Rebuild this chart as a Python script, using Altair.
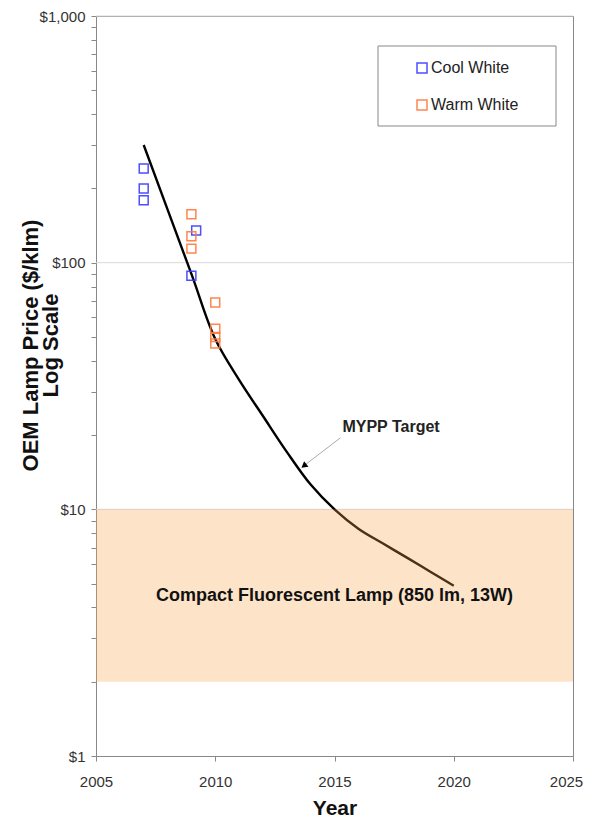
import altair as alt
import pandas as pd

# ---- data ----
target_years = [2007, 2009, 2010, 2011, 2012, 2013, 2014, 2015, 2016, 2017, 2018, 2019, 2020]
target_price = [300, 90, 49, 33.5, 23.9, 17.1, 12.6, 10, 8.35, 7.3, 6.4, 5.6, 4.9]

cool_years = [2007, 2007, 2007, 2009.2, 2009]
cool_price = [241, 200, 179, 135, 88.5]

warm_years = [2009, 2009, 2009, 2010, 2010, 2010, 2010]
warm_price = [157, 128, 114, 69, 54, 50, 47]

series_names = ["Cool White", "Warm White"]
series_colors = ["#3b3bff", "#ff7a3d"]

grid_values = [10, 100, 1000]
minor_ticks = [m * 10 ** k for k in range(3) for m in range(1, 10)] + [1000]

band = {"x": 2005, "x2": 2025, "y": 2, "y2": 10}
cfl_label = {"year": 2015.0, "price": 4.47, "text": "Compact Fluorescent Lamp (850 lm, 13W)"}
mypp_label = {"year": 2017.37, "price": 21.6, "text": "MYPP Target"}
arrow_start = {"year": 2015.25, "price": 19.5}
arrow_end = {"year": 2013.75, "price": 15.1}

FONT = "Liberation Sans"

# ---- tables ----
line_df = pd.DataFrame({"year": target_years, "price": target_price})
pts_df = pd.DataFrame({
    "year": cool_years + warm_years,
    "price": cool_price + warm_price,
    "series": [series_names[0]] * len(cool_years) + [series_names[1]] * len(warm_years),
})
grid_df = pd.DataFrame({"price": grid_values})
band_df = pd.DataFrame([band])
cfl_df = pd.DataFrame([cfl_label])
mypp_df = pd.DataFrame([mypp_label])
arrow_df = pd.DataFrame([{"year": arrow_start["year"], "price": arrow_start["price"],
                          "year2": arrow_end["year"], "price2": arrow_end["price"]}])
head_df = pd.DataFrame([arrow_end])
legend_box_df = pd.DataFrame([{"k": 0}])

xscale = alt.Scale(domain=[2005, 2025], nice=False, zero=False)
yscale = alt.Scale(type="log", domain=[1, 1000], nice=False)

xaxis = alt.Axis(
    values=[2005, 2010, 2015, 2020, 2025], format="d", title="Year",
    grid=False, tickSize=5, tickColor="#888", domainColor="#888",
    labelFont=FONT, labelFontSize=15, labelColor="#333", labelPadding=13,
    labelFlush=False,
    labelOffset={"condition": {"test": "datum.value == 2025", "value": -7}, "value": 0},
    titleFont=FONT, titleFontSize=21, titleFontWeight="bold", titleColor="#111",
    titlePadding=8,
)
yaxis = alt.Axis(
    values=minor_ticks,
    labelExpr="indexof([1,10,100,1000], datum.value) >= 0 ? '$' + format(datum.value, ',') : ''",
    title=["OEM Lamp Price ($/klm)", "Log Scale"],
    grid=False, tickSize=5, tickColor="#888", domainColor="#888",
    labelFont=FONT, labelFontSize=15, labelColor="#333", labelPadding=6,
    labelOverlap=False, labelFlush=False,
    titleFont=FONT, titleFontSize=22, titleFontWeight="bold", titleColor="#111",
    titleX=-66, titleY=329, titleAngle=-90, titleBaseline="middle",
    titleLineHeight=20,
)

X = alt.X("year:Q", scale=xscale, axis=xaxis)
Y = alt.Y("price:Q", scale=yscale, axis=yaxis)

grid = alt.Chart(grid_df).mark_rule(color="#d9d9d9", strokeWidth=1).encode(y=Y)

target = alt.Chart(line_df).mark_line(color="#000", strokeWidth=2.4, interpolate="catmull-rom").encode(x=X, y=Y)

band_layer = alt.Chart(band_df).mark_rect(color="#f8a54b", opacity=0.3).encode(
    x=alt.X("x:Q", scale=xscale, axis=xaxis), x2="x2:Q",
    y=alt.Y("y:Q", scale=yscale, axis=yaxis), y2="y2:Q",
)

# frame of the legend (decoration)
legend_box = alt.Chart(legend_box_df).mark_rect(fill="#fff", stroke="#888", strokeWidth=1).encode(
    x=alt.value(282), x2=alt.value(460), y=alt.value(30), y2=alt.value(110))

points = alt.Chart(pts_df).mark_point(shape="square", filled=False, size=80, strokeWidth=1.5, opacity=0.9).encode(
    x=X, y=Y,
    color=alt.Color("series:N", scale=alt.Scale(domain=series_names, range=series_colors),
                    legend=alt.Legend(
                        title=None, orient="none", legendX=318, legendY=44,
                        padding=0,
                        symbolType="square", symbolSize=100, symbolStrokeWidth=1.5,
                        labelOffset=1, rowPadding=21,
                        labelFont=FONT, labelFontSize=16, labelColor="#222",
                    )),
)

arrow = alt.Chart(arrow_df).mark_rule(color="#aaa", strokeWidth=1).encode(
    x=X, y=Y, x2="year2:Q", y2="price2:Q")
head = alt.Chart(head_df).mark_point(shape="triangle", filled=True, color="#000", size=50, angle=232, opacity=1).encode(x=X, y=Y)

mypp = alt.Chart(mypp_df).mark_text(font=FONT, fontSize=16, fontWeight="bold", color="#222").encode(
    x=X, y=Y, text="text:N")
cfl = alt.Chart(cfl_df).mark_text(font=FONT, fontSize=18, fontWeight="bold", color="#111").encode(
    x=X, y=Y, text="text:N")

chart = alt.layer(grid, target, band_layer, legend_box, arrow, head, points, mypp, cfl).properties(
    width=477, height=740,
    autosize=alt.AutoSizeParams(type="none"),
    padding={"left": 88, "top": 8, "right": 11, "bottom": 64},
).configure_view(stroke="#888", strokeWidth=1)

chart.save("out.html", embed_options={"renderer": "svg", "actions": False})
